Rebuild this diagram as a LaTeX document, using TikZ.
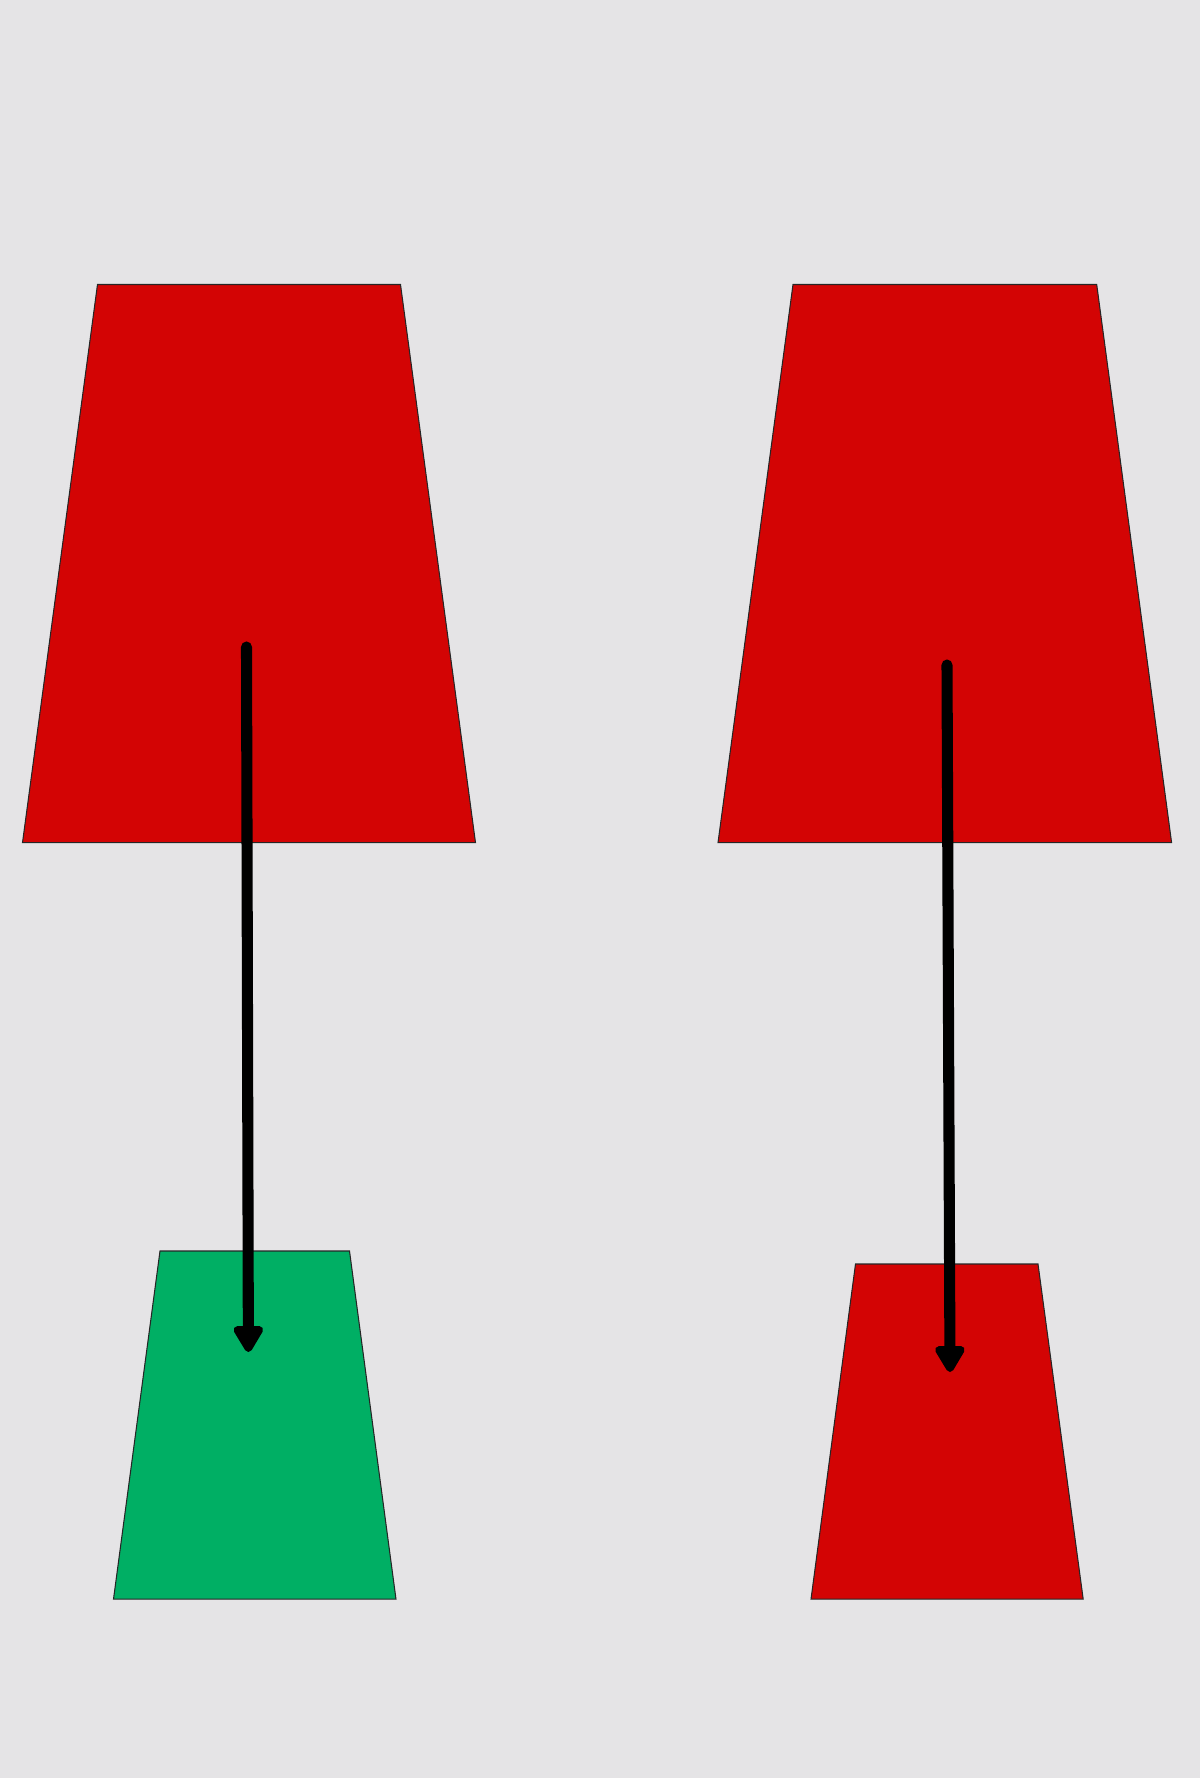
\documentclass[tikz,border=0pt]{standalone}
\usepackage{xcolor}
\usepackage{tikz}
\usetikzlibrary{arrows.meta}
\definecolor{bggrey}{HTML}{E5E4E6}
\definecolor{cupred}{HTML}{D30404}
\definecolor{cupgreen}{HTML}{00AF64}
\tikzset{
  cup/.style={draw=black!85, fill=#1, line width=0.6pt, line join=miter},
  ar/.style={-{Triangle[length=6mm,width=6.6mm,round]}, line width=6.3pt, line cap=round, draw=black},
}

\begin{document}
\begin{tikzpicture}[x=0.02cm, y=-0.02cm]
  \fill[bggrey] (0,0) rectangle (1200,1778);

  % left pair
  \filldraw[cup=cupred] (97.5,284.5) -- (400.5,284.5) -- (475.5,842.7) -- (22.5,842.7) -- cycle;
  \filldraw[cup=cupgreen] (160,1251) -- (349.5,1251) -- (396,1599.2) -- (113.5,1599.2) -- cycle;

  % right pair
  \filldraw[cup=cupred] (793,284.5) -- (1096.7,284.5) -- (1171.6,842.7) -- (718,842.7) -- cycle;
  \filldraw[cup=cupred] (855.5,1264) -- (1038,1264) -- (1083.2,1599.2) -- (811,1599.2) -- cycle;

  \coordinate (lfrom) at (246.5,647);
  \coordinate (lto) at (248.4,1352);
  \coordinate (rfrom) at (947,665);
  \coordinate (rto) at (950,1372);

  \draw[ar] (lfrom) -- (lto);
  \draw[ar] (rfrom) -- (rto);
\end{tikzpicture}
\end{document}
